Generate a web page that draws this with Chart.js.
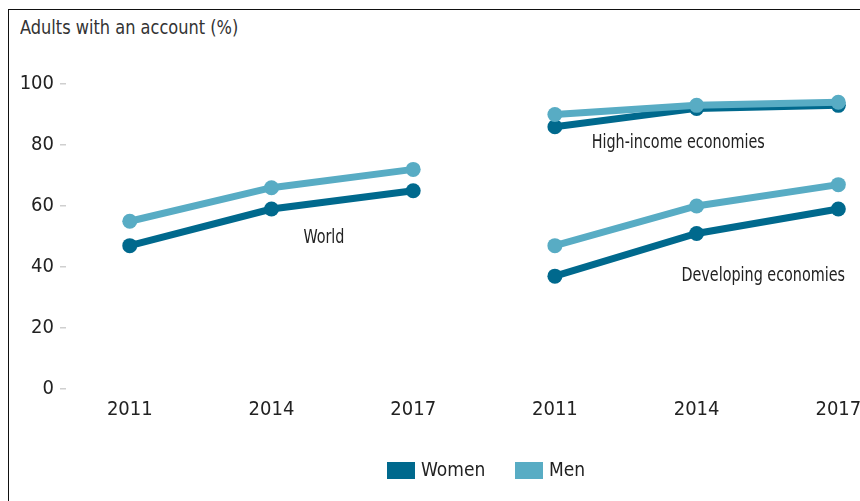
<!DOCTYPE html>
<html>
<head>
<meta charset="utf-8">
<script src="https://cdn.jsdelivr.net/npm/chart.js@4/dist/chart.umd.min.js"></script>
<style>
  html, body { margin: 0; padding: 0; background: #fff; }
  #wrap { position: relative; width: 860px; height: 501px; overflow: hidden; }
  #frame { position: absolute; left: 8px; top: 9px; right: -2px; bottom: -2px;
           border-top: 1.5px solid #111; border-left: 1.5px solid #111; }
  #title { position: absolute; left: 20px; top: 15px; font: 20px "DejaVu Sans Condensed", sans-serif; color: #333;
           transform: scaleX(0.9); transform-origin: left top; }
  canvas { position: absolute; left: 0; top: 0; }
  #legend { position: absolute; top: 458px; left: 387px; font: 19px "DejaVu Sans Condensed", sans-serif; color: #222; }
  #legend span.item { position: absolute; white-space: nowrap; }
  #legend i { display: inline-block; width: 28px; height: 17px; vertical-align: -3px; margin-right: 6px; }
</style>
</head>
<body>
<div id="wrap">
  <div id="frame"></div>
  <div id="title">Adults with an account (%)</div>
  <canvas id="chart" width="860" height="501"></canvas>
  <div id="legend"></div>
</div>
<script>
// Data
const yearLabels = ['2011', '2014', '2017', '2011', '2014', '2017'];
const worldWomen = [47, 59, 65];
const worldMen = [55, 66, 72];
const highWomen = [86, 92, 93];
const highMen = [90, 93, 94];
const devWomen = [37, 51, 59];
const devMen = [47, 60, 67];
const yTicks = [0, 20, 40, 60, 80, 100];

const WOMEN = '#00698d';
const MEN = '#58acc4';
const FONT = '"DejaVu Sans Condensed", sans-serif';

// group labels: [text, x (category index), y (%)]
const regionNotes = [
  ['World', 1.37, 49.5],
  ['High-income economies', 3.87, 80.5],
  ['Developing economies', 4.47, 37]
];

function toPoints(values, start) {
  return values.map((v, i) => ({ x: start + i, y: v }));
}

function lineSet(label, values, start, color) {
  return {
    label: label,
    data: toPoints(values, start),
    borderColor: color,
    backgroundColor: color,
    borderWidth: 7,
    pointRadius: 7.5,
    pointHoverRadius: 7.5,
    pointBorderWidth: 0,
    clip: false
  };
}

const notesPlugin = {
  id: 'notes',
  afterDatasetsDraw(chart) {
    const { ctx, scales } = chart;
    ctx.save();
    ctx.font = '19px ' + FONT;
    ctx.fillStyle = '#222';
    ctx.textAlign = 'center';
    ctx.textBaseline = 'middle';
    regionNotes.forEach(([text, x, y]) => {
      const px = scales.x.getPixelForValue(x);
      const py = scales.y.getPixelForValue(y);
      ctx.save();
      ctx.translate(px, py);
      ctx.scale(0.84, 1);
      ctx.fillText(text, 0, 0);
      ctx.restore();
    });
    ctx.restore();
  }
};

new Chart(document.getElementById('chart'), {
  type: 'line',
  data: {
    datasets: [
      lineSet('Men', worldMen, 0, MEN),
      lineSet('Women', worldWomen, 0, WOMEN),
      lineSet('Men', devMen, 3, MEN),
      lineSet('Women', devWomen, 3, WOMEN),
      lineSet('Men', highMen, 3, MEN),
      lineSet('Women', highWomen, 3, WOMEN)
    ]
  },
  options: {
    responsive: false,
    animation: false,
    layout: { padding: { top: 84, right: 6, bottom: 72, left: 0 } },
    plugins: { legend: { display: false }, tooltip: { enabled: false } },
    scales: {
      x: {
        type: 'linear',
        min: -0.45,
        max: 5.1,
        afterBuildTicks: (scale) => { scale.ticks = yearLabels.map((l, i) => ({ value: i })); },
        afterFit: (scale) => { scale.height = 40; scale.paddingLeft = 0; scale.paddingRight = 0; },
        grid: { display: false },
        border: { display: false },
        ticks: {
          autoSkip: false,
          maxRotation: 0,
          padding: 1,
          color: '#222',
          font: { family: FONT, size: 20 },
          callback: (v) => yearLabels[v]
        }
      },
      y: {
        min: 0,
        max: 100,
        afterBuildTicks: (scale) => { scale.ticks = yTicks.map(v => ({ value: v })); },
        afterFit: (scale) => { scale.width = 66; },
        grid: { drawOnChartArea: false, tickLength: 6, color: '#cfcfcf', lineWidth: 1.5 },
        border: { display: false },
        ticks: {
          padding: 6,
          color: '#222',
          font: { family: FONT, size: 20 }
        }
      }
    }
  },
  plugins: [notesPlugin]
});

// legend
const legendItems = [['Women', WOMEN, 0], ['Men', MEN, 128]];
const legendEl = document.getElementById('legend');
legendItems.forEach(([name, color, left]) => {
  const s = document.createElement('span');
  s.className = 'item';
  s.style.left = left + 'px';
  s.innerHTML = `<i style="background:${color}"></i>${name}`;
  legendEl.appendChild(s);
});
</script>
</body>
</html>
